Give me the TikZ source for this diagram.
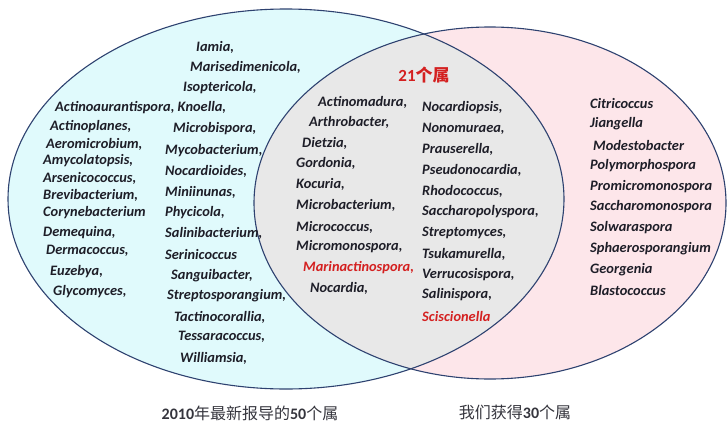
\documentclass[tikz,border=0pt]{standalone}
\usepackage{fontspec}
\setmainfont{Carlito}
\newfontfamily\cjk{Noto Sans CJK SC}
\usepackage{tikz}
\usetikzlibrary{positioning}

\definecolor{leftfill}{HTML}{E0FAFC}
\definecolor{rightfill}{HTML}{FDE6EA}
\definecolor{midfill}{HTML}{E8E8E8}
\definecolor{rimblue}{HTML}{2E4270}
\definecolor{genred}{HTML}{D42020}
\definecolor{gentext}{HTML}{1E1E28}

\begin{document}
\begin{tikzpicture}[
  x=1pt, y=-1pt,
  genus/.style={anchor=west, inner sep=0pt, text=gentext,
                font=\fontsize{14.4}{16}\selectfont\bfseries\itshape},
  hit/.style={genus, text=genred},
  caption/.style={inner sep=0pt, text=gentext!90, font=\fontsize{16}{18}\selectfont},
  rim/.style={draw=rimblue, line width=1.1pt},
]
\useasboundingbox (0,0) rectangle (728,423);

% the two sets and their overlap
\fill[leftfill]  (286,199) ellipse [x radius=278pt, y radius=190pt];
\fill[rightfill] (490,203) ellipse [x radius=236pt, y radius=176pt];
\begin{scope}
  \clip (286,199) ellipse [x radius=278pt, y radius=190pt];
  \fill[midfill] (490,203) ellipse [x radius=236pt, y radius=176pt];
\end{scope}
\draw[rim] (286,199) ellipse [x radius=278pt, y radius=190pt];
\draw[rim] (490,203) ellipse [x radius=236pt, y radius=176pt];

% left set, first column
\node[genus] (aca) at (55,108)  {Actinoaurantispora, Knoella,};
\node[genus] (acp) at (50,127)  {Actinoplanes,};
\node[genus] (aer) at (46,144)  {Aeromicrobium,};
\node[genus] (amy) at (43,161)  {Amycolatopsis,};
\node[genus] (ars) at (43,178)  {Arsenicococcus,};
\node[genus] (bre) at (43,195)  {Brevibacterium,};
\node[genus] (cor) at (43,213)  {Corynebacterium};
\node[genus] (dem) at (43,233)  {Demequina,};
\node[genus] (der) at (46,251)  {Dermacoccus,};
\node[genus] (euz) at (50,272)  {Euzebya,};
\node[genus] (gly) at (53,292)  {Glycomyces,};

% left set, second column
\node[genus] (iam) at (196,47)  {Iamia,};
\node[genus] (mar) at (190,67)  {Marisedimenicola,};
\node[genus] (iso) at (183,88)  {Isoptericola,};
\node[genus] (mbs) at (173,129) {Microbispora,};
\node[genus] (myc) at (165,151) {Mycobacterium,};
\node[genus] (noc) at (165,171) {Nocardioides,};
\node[genus] (min) at (165,192) {Miniinunas,};
\node[genus] (phy) at (165,213) {Phycicola,};
\node[genus] (sal) at (165,233) {Salinibacterium,};
\node[genus] (ser) at (165,254) {Serinicoccus};
\node[genus] (san) at (171,276) {Sanguibacter,};
\node[genus] (stg) at (167,296) {Streptosporangium,};
\node[genus] (tac) at (174,317) {Tactinocorallia,};
\node[genus] (tes) at (178,337) {Tessaracoccus,};
\node[genus] (wil) at (180,358) {Williamsia,};

% overlap
\node[inner sep=0pt, text=genred, font=\fontsize{17}{19}\selectfont\bfseries] (shared) at (424,75)
  {21{\cjk 个属}};
\node[genus] (acm) at (318,102) {Actinomadura,};
\node[genus] (art) at (309,122) {Arthrobacter,};
\node[genus] (die) at (302,143) {Dietzia,};
\node[genus] (gor) at (296,163) {Gordonia,};
\node[genus] (koc) at (296,184) {Kocuria,};
\node[genus] (mcb) at (296,205) {Microbacterium,};
\node[genus] (mcc) at (296,227) {Micrococcus,};
\node[genus] (mcm) at (296,247) {Micromonospora,};
\node[hit]   (mra) at (303,268) {Marinactinospora,};
\node[genus] (nca) at (310,288) {Nocardia,};
\node[genus] (ncp) at (422,108) {Nocardiopsis,};
\node[genus] (non) at (422,129) {Nonomuraea,};
\node[genus] (pra) at (422,149) {Prauserella,};
\node[genus] (psn) at (422,170) {Pseudonocardia,};
\node[genus] (rho) at (422,191) {Rhodococcus,};
\node[genus] (sap) at (422,212) {Saccharopolyspora,};
\node[genus] (stm) at (422,233) {Streptomyces,};
\node[genus] (tsu) at (422,254) {Tsukamurella,};
\node[genus] (ver) at (422,275) {Verrucosispora,};
\node[genus] (sln) at (422,295) {Salinispora,};
\node[hit]   (sci) at (422,316) {Sciscionella};

% right set
\node[genus] (cit) at (590,103) {Citricoccus};
\node[genus] (jia) at (590,124) {Jiangella};
\node[genus] (mod) at (593,145) {Modestobacter};
\node[genus] (pol) at (590,166) {Polymorphospora};
\node[genus] (pro) at (590,187) {Promicromonospora};
\node[genus] (sam) at (590,207) {Saccharomonospora};
\node[genus] (sol) at (590,228) {Solwaraspora};
\node[genus] (sph) at (590,249) {Sphaerosporangium};
\node[genus] (geo) at (590,270) {Georgenia};
\node[genus] (bla) at (590,290) {Blastococcus};

% captions
\node[caption] (reported) at (250,413) {\textbf{2010}{\cjk 年最新报导的}\textbf{50}{\cjk 个属}};
\node[caption] (obtained) at (515,412) {{\cjk 我们获得}\textbf{30}{\cjk 个属}};
\end{tikzpicture}
\end{document}
